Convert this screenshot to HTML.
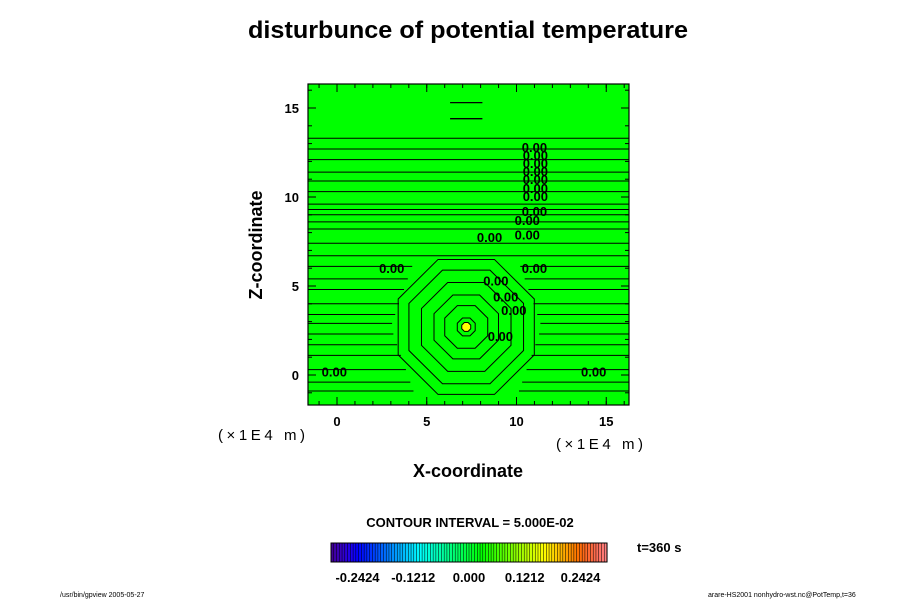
<!DOCTYPE html>
<html><head><meta charset="utf-8"><style>
body{margin:0;background:#fff;font-family:"Liberation Sans",sans-serif}
svg text{font-family:"Liberation Sans",sans-serif}
</style></head><body>
<svg id="c" width="900" height="600" viewBox="0 0 900 600">
<text x="468" y="38" text-anchor="middle" font-size="24" font-weight="bold" textLength="440" lengthAdjust="spacingAndGlyphs">disturbunce of potential temperature</text>
<rect x="308" y="84" width="321" height="321" fill="#00ff00"/>
<g id="contours"></g>
<g id="labels"></g>
<rect x="308" y="84" width="321" height="321" fill="none" stroke="#000" stroke-width="1.2"/>
<g id="ticks"></g>
<text x="262" y="245" font-size="18" font-weight="bold" text-anchor="middle" transform="rotate(-90 262 245)">Z-coordinate</text>
<text x="468" y="477" font-size="18" font-weight="bold" text-anchor="middle">X-coordinate</text>
<text x="218" y="440" font-size="15" textLength="87" lengthAdjust="spacing">(×1E4 m)</text>
<text x="556" y="449" font-size="15" textLength="87" lengthAdjust="spacing">(×1E4 m)</text>
<text x="470" y="527" font-size="13" font-weight="bold" text-anchor="middle">CONTOUR INTERVAL = 5.000E-02</text>
<g id="cbar"></g>
<text x="637" y="552" font-size="13" font-weight="bold">t=360 s</text>
<text x="60" y="597" font-size="7">/usr/bin/gpview 2005-05-27</text>
<text x="708" y="597" font-size="7">arare-HS2001 nonhydro-wst.nc@PotTemp,t=36</text>
</svg>
<script>
const xTicks=[0,5,10,15];
const zTicks=[0,5,10,15];
const topLevels=[15.3,14.4];
const hLevels=[13.3,12.7,12.1,11.4,10.9,10.3,9.6,9.3,9.0,8.6,8.2,7.4,6.7,6.1,5.4,4.8,4.0,3.4,2.9,2.3,1.7,1.1,0.3,-0.4,-0.9];
const ringRadii=[0.25,0.5,1.2,1.8,2.5,3.2,3.8];
const cbLabels=["-0.2424","-0.1212","0.000","0.1212","0.2424"];
const cbValues=[-0.2424,-0.1212,0,0.1212,0.2424];
const cLabels=[[-0.15,0.2],[14.3,0.2],[3.05,6.0],[11.0,6.0],[8.5,7.75],[8.85,5.3],[9.4,4.4],[9.85,3.65],[9.1,2.2],[11,12.8],[11.05,12.35],[11.05,11.9],[11.05,11.45],[11.05,11.0],[11.05,10.5],[11.05,10.05],[11.0,9.2],[10.6,8.7],[10.6,7.9]];
const NS="http://www.w3.org/2000/svg";
const X=v=>337+v*17.95, Y=v=>375-v*17.8;
function mk(t,a,p){const e=document.createElementNS(NS,t);for(const k in a)e.setAttribute(k,a[k]);p.appendChild(e);return e;}
const cg=document.getElementById('contours');
const cx=7.2, cz=2.7;
topLevels.forEach(z=>{
  let l=mk('line',{x1:X(cx-0.9),x2:X(cx+0.9),y1:Y(z),y2:Y(z),stroke:'#000','stroke-width':1.3},cg);
  
});
hLevels.forEach(z=>{
  if(z<6.5&&z>-1.2){
    const half=Math.max(0,4.2-Math.abs(z-cz)*0.35);
    let l=mk('line',{x1:308,x2:X(cx-half),y1:Y(z),y2:Y(z),stroke:'#000','stroke-width':1},cg);
    
    let r=mk('line',{x1:X(cx+half),x2:629,y1:Y(z),y2:Y(z),stroke:'#000','stroke-width':1},cg);
    
  }else{
    let l=mk('line',{x1:308,x2:629,y1:Y(z),y2:Y(z),stroke:'#000','stroke-width':1},cg);
    
  }
});
ringRadii.forEach((r,i)=>{
  const pts=[];for(let k=0;k<8;k++){const a=Math.PI/8+k*Math.PI/4;pts.push(X(cx+r*Math.cos(a)*1.08)+','+Y(cz+r*Math.sin(a)*1.08));}
  const p=mk('polygon',{points:pts.join(' '),fill:i==0?'#ffff00':'none',stroke:'#000','stroke-width':1},cg);
  
});
const lg=document.getElementById('labels');
cLabels.forEach(c=>{const t=mk('text',{x:X(c[0]),y:Y(c[1])+5,'font-size':13,'font-weight':'bold','text-anchor':'middle'},lg);t.textContent='0.00';
  });
const tg=document.getElementById('ticks');
xTicks.forEach(v=>{const t=mk('text',{x:X(v),y:426,'font-size':13,'font-weight':'bold','text-anchor':'middle'},tg);t.textContent=v;
  
  mk('line',{x1:X(v),x2:X(v),y1:405,y2:397,stroke:'#000'},tg);mk('line',{x1:X(v),x2:X(v),y1:84,y2:92,stroke:'#000'},tg);});
for(let v=-1;v<=16;v++){mk('line',{x1:X(v),x2:X(v),y1:405,y2:401,stroke:'#000'},tg);mk('line',{x1:X(v),x2:X(v),y1:84,y2:88,stroke:'#000'},tg);
  mk('line',{x1:308,x2:312,y1:Y(v),y2:Y(v),stroke:'#000'},tg);mk('line',{x1:629,x2:625,y1:Y(v),y2:Y(v),stroke:'#000'},tg);}
zTicks.forEach(v=>{const t=mk('text',{x:299,y:Y(v)+5,'font-size':13,'font-weight':'bold','text-anchor':'end'},tg);t.textContent=v;
  
  mk('line',{x1:308,x2:316,y1:Y(v),y2:Y(v),stroke:'#000'},tg);mk('line',{x1:629,x2:621,y1:Y(v),y2:Y(v),stroke:'#000'},tg);});
const cb=document.getElementById('cbar');
const n=100,x0=331,w=276,vmin=-0.3,vmax=0.3,CX=v=>x0+(v-vmin)/(vmax-vmin)*w;
for(let i=0;i<n;i++){const f=i/(n-1);const h=265-f*265;const l=f<0.08?30+f*250:(f>0.9?50+(f-0.9)*250:50);
  const s=mk('rect',{x:x0+i*w/n,y:543,width:w/n+0.3,height:19,fill:`hsl(${h},100%,${l}%)`,stroke:'#000','stroke-width':0.5},cb);
  }
mk('rect',{x:x0,y:543,width:w,height:19,fill:'none',stroke:'#000'},cb);
cbLabels.forEach((s,i)=>{const t=mk('text',{x:CX(cbValues[i]),y:582,'font-size':13,'font-weight':'bold','text-anchor':'middle'},cb);t.textContent=s;
  });
</script>
</body></html>
